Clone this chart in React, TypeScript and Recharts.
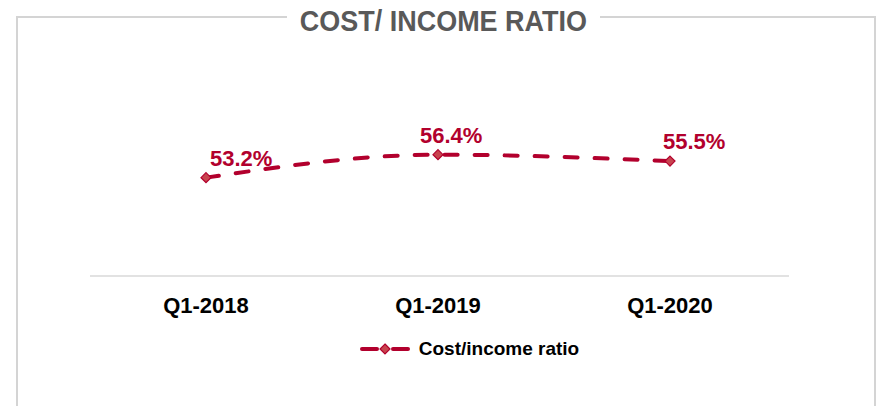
import React from "react";
import { LineChart, Line, XAxis, YAxis, Legend } from "recharts";

const quarters = ["Q1-2018", "Q1-2019", "Q1-2020"];
const costIncome = [53.2, 56.4, 55.5];
const labelShift = [4, -18, -7];

const RED = "#B2002D";
const FONT = "'Liberation Sans', Arial, Helvetica, sans-serif";

const chartData = quarters.map((q, i) => ({ quarter: q, ratio: costIncome[i] }));

const Diamond = (props: any) => {
  const { cx, cy, index } = props;
  if (cx == null || cy == null) return null;
  const r = 5;
  return (
    <polygon
      key={`d-${index}`}
      points={`${cx},${cy - r} ${cx + r},${cy} ${cx},${cy + r} ${cx - r},${cy}`}
      fill="#C8444F"
      stroke={RED}
      strokeWidth={1.2}
    />
  );
};

const PctLabel = (props: any) => {
  const { x, y, value, index } = props;
  return (
    <text
      x={x + (labelShift[index] ?? 0)}
      y={y - 12}
      fill={RED}
      fontSize={22}
      fontWeight="bold"
      fontFamily={FONT}
      textAnchor="start"
    >
      {`${Number(value).toFixed(1)}%`}
    </text>
  );
};

const LegendBox = () => (
  <div style={{ display: "flex", justifyContent: "center", alignItems: "center", fontFamily: FONT, paddingLeft: 56 }}>
    <svg width={50} height={14} style={{ marginRight: 9 }}>
      <line x1={2} y1={7} x2={17} y2={7} stroke={RED} strokeWidth={4} strokeLinecap="round" />
      <line x1={33} y1={7} x2={48} y2={7} stroke={RED} strokeWidth={4} strokeLinecap="round" />
      <polygon points="25,2 30,7 25,12 20,7" fill="#C8444F" stroke={RED} strokeWidth={1.2} />
    </svg>
    <span style={{ fontSize: 19, fontWeight: "bold", color: "#000" }}>Cost/income ratio</span>
  </div>
);

export default function App() {
  return (
    <div style={{ position: "absolute", left: 0, top: 0, width: 883, height: 406, background: "#fff", overflow: "hidden" }}>
      {/* frame */}
      <div
        style={{
          position: "absolute",
          left: 16,
          top: 16,
          width: 856,
          height: 420,
          borderTop: "2px solid #d4d4d4",
          borderLeft: "2px solid #d4d4d4",
          borderRight: "2px solid #d4d4d4",
        }}
      />
      {/* title */}
      <div
        style={{
          position: "absolute",
          left: 287,
          top: 3,
          width: 313,
          height: 36,
          background: "#fff",
          textAlign: "center",
          lineHeight: "36px",
          fontFamily: FONT,
          fontWeight: "bold",
          fontSize: 29,
          color: "#595959",
          whiteSpace: "nowrap",
        }}
      >
        <span style={{ display: "inline-block", transform: "scaleX(0.93)" }}>COST/ INCOME RATIO</span>
      </div>
      <div style={{ position: "absolute", left: 0, top: 0 }}>
        <LineChart width={883} height={406} data={chartData} margin={{ top: 57, right: 94, bottom: 66, left: 90 }}>
          <XAxis
            dataKey="quarter"
            axisLine={{ stroke: "#d9d9d9", strokeWidth: 1.5 }}
            tickLine={false}
            tickMargin={15}
            height={40}
            interval={0}
            padding={{ left: 116, right: 119 }}
            tick={{ fontSize: 22, fontWeight: "bold", fill: "#000", fontFamily: FONT }}
          />
          <YAxis hide domain={[39.5, 70]} />
          <Legend
            verticalAlign="bottom"
            content={() => <LegendBox />}
            wrapperStyle={{ top: 338, left: 0, width: 883, height: 24 }}
          />
          <Line
            type="monotone"
            dataKey="ratio"
            stroke={RED}
            strokeWidth={4}
            strokeDasharray="13 17"
            strokeLinecap="round"
            dot={<Diamond />}
            activeDot={false}
            label={<PctLabel />}
            isAnimationActive={false}
          />
        </LineChart>
      </div>
    </div>
  );
}
